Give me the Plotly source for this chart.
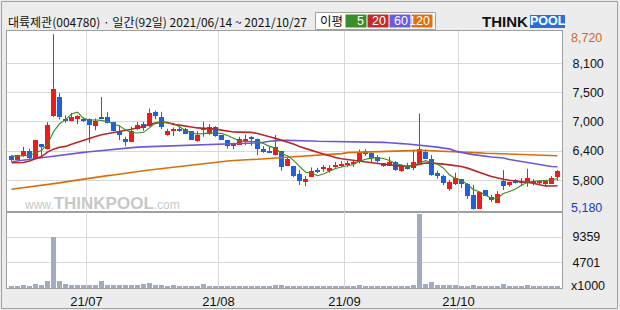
import plotly.graph_objects as go
from plotly.subplots import make_subplots

# ---------------- data ----------------
title_text = "대륙제관(004780) · 일간(92일) 2021/06/14 ~ 2021/10/27"
month_labels = ["21/07", "21/08", "21/09", "21/10"]
month_start_idx = [13, 35, 56, 75]

opens = [6261, 6180, 6258, 6360, 6220, 6495, 6400, 7065, 7449, 7012,
         6972, 7012, 7018, 6998, 6864, 7045, 7039, 6938, 6770, 6609,
         6548, 6810, 6904, 6864, 7153, 7039, 6683, 6770, 6810, 6804,
         6763, 6555, 6790, 6703, 6844, 6676, 6582, 6481, 6488, 6562,
         6649, 6602, 6400, 6367, 6273, 6367, 6064, 6058, 5896, 5736,
         5843, 5984, 5990, 5964, 6058, 6078, 6085, 6105, 6132, 6360,
         6320, 6246, 6118, 6064, 6132, 5964, 6051, 6018, 6105, 6340,
         6199, 5917, 5863, 5601, 5688, 5796, 5702, 5480, 5198, 5575,
         5433, 5319, 5756, 5675, 5769, 5729, 5722, 5709, 5722, 5702,
         5702, 5843]
highs = [6280, 6285, 6447, 6407, 6590, 6500, 6945, 8720, 7530, 7080,
         7132, 7085, 7040, 7020, 7018, 7449, 7146, 6945, 6884, 6650,
         6851, 6945, 6951, 7220, 7180, 7153, 6810, 6837, 6851, 6830,
         6763, 6763, 6951, 6904, 6864, 6680, 6585, 6528, 6649, 6696,
         6662, 6616, 6461, 6461, 6683, 6367, 6246, 6058, 5977, 5857,
         6031, 6024, 6078, 6078, 6139, 6159, 6166, 6166, 6394, 6400,
         6320, 6280, 6118, 6246, 6159, 6091, 6125, 6367, 7120, 6394,
         6280, 5964, 5883, 5776, 5924, 5796, 5716, 5675, 5534, 5575,
         5480, 5554, 5977, 5743, 5796, 5816, 6004, 5796, 5776, 5769,
         5856, 5977]
lows = [6160, 6170, 6245, 6186, 6215, 6267, 6395, 7050, 6999, 6931,
        6965, 6904, 6950, 6528, 6783, 7030, 6920, 6760, 6582, 6461,
        6548, 6790, 6770, 6850, 7003, 6804, 6670, 6662, 6750, 6703,
        6582, 6548, 6649, 6683, 6649, 6582, 6414, 6400, 6481, 6481,
        6468, 6279, 6326, 6320, 6273, 5964, 6064, 5836, 5675, 5655,
        5836, 5917, 5944, 5924, 6024, 6038, 6044, 6044, 6112, 6260,
        6132, 6125, 6044, 6058, 5964, 5944, 5990, 5977, 6098, 6199,
        5863, 5803, 5675, 5561, 5675, 5615, 5393, 5180, 5191, 5453,
        5333, 5312, 5574, 5641, 5709, 5655, 5641, 5668, 5689, 5655,
        5695, 5762]
closes = [6180, 6274, 6360, 6220, 6581, 6448, 6884, 7609, 7039, 6972,
          7045, 7072, 6972, 6884, 6972, 6998, 6931, 6770, 6676, 6548,
          6756, 6884, 6830, 7132, 7072, 6844, 6764, 6790, 6770, 6709,
          6588, 6676, 6817, 6850, 6662, 6582, 6468, 6501, 6609, 6609,
          6602, 6407, 6333, 6327, 6434, 6044, 6206, 5863, 5762, 5796,
          5957, 5944, 6038, 6024, 6085, 6105, 6105, 6132, 6340, 6293,
          6226, 6152, 6051, 6145, 5984, 6064, 6011, 6145, 6407, 6206,
          5883, 5863, 5722, 5736, 5816, 5702, 5460, 5198, 5534, 5460,
          5373, 5494, 5662, 5729, 5716, 5749, 5816, 5756, 5749, 5749,
          5816, 5964]
ma5 = [6260, 6262, 6266, 6272, 6323, 6377, 6499, 6748, 6912, 6990,
       7110, 7147, 7020, 6989, 6989, 6980, 6951, 6911, 6869, 6785,
       6736, 6727, 6739, 6830, 6935, 6952, 6928, 6920, 6848, 6775,
       6724, 6707, 6712, 6728, 6719, 6717, 6676, 6613, 6564, 6554,
       6558, 6546, 6512, 6456, 6421, 6309, 6269, 6175, 6062, 5934,
       5917, 5864, 5899, 5952, 6010, 6039, 6071, 6090, 6153, 6195,
       6219, 6229, 6212, 6173, 6112, 6079, 6051, 6070, 6122, 6167,
       6130, 6101, 6016, 5882, 5804, 5768, 5687, 5582, 5542, 5471,
       5405, 5412, 5505, 5544, 5595, 5670, 5734, 5753, 5757, 5764,
       5777, 5807]
ma20 = [6126, 6126, 6130, 6160, 6205, 6250, 6340, 6400, 6440, 6455,
        6500, 6540, 6590, 6630, 6655, 6690, 6710, 6735, 6760, 6772,
        6801, 6831, 6855, 6900, 6925, 6944, 6939, 6898, 6884, 6871,
        6848, 6828, 6821, 6819, 6803, 6783, 6759, 6746, 6743, 6746,
        6738, 6714, 6689, 6649, 6617, 6577, 6549, 6503, 6452, 6407,
        6375, 6339, 6300, 6258, 6230, 6206, 6188, 6169, 6156, 6140,
        6121, 6108, 6094, 6085, 6063, 6064, 6054, 6068, 6100, 6121,
        6117, 6113, 6097, 6083, 6069, 6049, 6017, 5970, 5930, 5888,
        5846, 5813, 5793, 5772, 5759, 5743, 5734, 5714, 5681, 5658,
        5655, 5660]
ma60 = [6147, 6160, 6175, 6195, 6210, 6225, 6240, 6258, 6275, 6295,
        6310, 6322, 6335, 6347, 6360, 6372, 6385, 6398, 6410, 6422,
        6432, 6440, 6445, 6450, 6455, 6460, 6462, 6465, 6470, 6475,
        6482, 6488, 6495, 6500, 6505, 6510, 6514, 6516, 6516, 6518,
        6520, 6525, 6540, 6560, 6572, 6576, 6576, 6576, 6576, 6575,
        6565, 6560, 6558, 6556, 6556, 6556, 6556, 6556, 6556, 6555,
        6550, 6542, 6536, 6530, 6516, 6512, 6505, 6495, 6480, 6470,
        6455, 6440, 6420, 6405, 6360, 6330, 6310, 6290, 6270, 6250,
        6240, 6230, 6220, 6190, 6170, 6150, 6130, 6100, 6085, 6070,
        6050, 6044]
ma120 = [5590, 5605, 5620, 5635, 5650, 5665, 5680, 5700, 5720, 5740,
         5760, 5775, 5790, 5805, 5825, 5845, 5865, 5880, 5900, 5915,
         5930, 5950, 5965, 5980, 5995, 6010, 6025, 6040, 6055, 6070,
         6085, 6095, 6110, 6125, 6135, 6145, 6160, 6170, 6180, 6185,
         6190, 6195, 6200, 6205, 6215, 6227, 6235, 6245, 6253, 6260,
         6267, 6273, 6280, 6290, 6295, 6310, 6330, 6335, 6340, 6342,
         6345, 6348, 6350, 6355, 6360, 6370, 6374, 6376, 6376, 6374,
         6370, 6360, 6354, 6350, 6340, 6336, 6334, 6330, 6325, 6318,
         6314, 6310, 6305, 6300, 6295, 6290, 6285, 6280, 6276, 6273,
         6270, 6268]
volume_k = [300, 300, 480, 300, 790, 480, 1340, 9450, 1340, 660,
            480, 480, 480, 480, 480, 1340, 480, 480, 480, 480,
            480, 480, 660, 850, 540, 480, 300, 480, 300, 300,
            300, 300, 660, 300, 300, 300, 300, 300, 300, 300,
            300, 300, 300, 300, 600, 480, 300, 300, 300, 300,
            300, 300, 300, 300, 300, 300, 300, 300, 480, 300,
            300, 300, 300, 300, 300, 300, 300, 480, 13500, 790,
            1030, 480, 480, 480, 480, 300, 300, 480, 300, 300,
            300, 300, 790, 300, 300, 300, 480, 300, 300, 300,
            300, 300]
price_tick_vals = [5770, 6360, 6950, 7540, 8130]
price_tick_text = ["5,800", "6,400", "7,000", "7,500", "8,100"]
vol_tick_vals = [4701, 9359]
vol_tick_text = ["4701", "9359"]
ma_names = ["5", "20", "60", "120"]

# ---------------- styles ----------------
UP, DOWN = "#f01a1a", "#1f5fe0"
MA_COLORS = ["#3c8c1e", "#b82828", "#6a5ad8", "#d8700a"]
LEG_COLORS = ["#3c8c28", "#c42a2a", "#6a5ce0", "#e07010"]
GRID = "#d9d9d9"
FRAME = "#a0a0a0"
BG = "#ececec"
FONT = "Liberation Sans"
KFONT = "Noto Sans CJK KR"

n = len(closes)
idx = list(range(n))

fig = make_subplots(rows=2, cols=1, shared_xaxes=True, vertical_spacing=0,
                    row_heights=[181, 76])

# candle bodies
body_base = [min(o, c) for o, c in zip(opens, closes)]
body_h = [max(abs(c - o), 18) for o, c in zip(opens, closes)]
body_col = [UP if c >= o else DOWN for o, c in zip(opens, closes)]
fig.add_trace(go.Bar(x=idx, y=body_h, base=body_base, width=0.84,
                     marker=dict(color=body_col, line=dict(width=0)),
                     hoverinfo="skip", showlegend=False), row=1, col=1)

# wicks
for col, up in ((UP, True), (DOWN, False)):
    wx, wy = [], []
    for i in idx:
        if (closes[i] >= opens[i]) == up:
            wx += [i, i, None]
            wy += [lows[i], highs[i], None]
    fig.add_trace(go.Scatter(x=wx, y=wy, mode="lines",
                             line=dict(color=col, width=1),
                             hoverinfo="skip", showlegend=False), row=1, col=1)

# moving averages
for vals, colr, wdt in ((ma120, MA_COLORS[3], 1.6), (ma60, MA_COLORS[2], 1.6),
                        (ma20, MA_COLORS[1], 1.6), (ma5, MA_COLORS[0], 1.1)):
    fig.add_trace(go.Scatter(x=idx, y=vals, mode="lines",
                             line=dict(color=colr, width=wdt),
                             hoverinfo="skip", showlegend=False), row=1, col=1)

# volume
fig.add_trace(go.Bar(x=idx, y=volume_k, width=0.8,
                     marker=dict(color="#a3aac3", line=dict(width=0)),
                     hoverinfo="skip", showlegend=False), row=2, col=1)

grid_x = [m - 0.5 for m in month_start_idx]
xcommon = dict(range=[-0.75, n - 0.25], showgrid=True, gridcolor=GRID, gridwidth=1,
               tickvals=grid_x, zeroline=False, showline=True, linecolor=FRAME,
               linewidth=1, mirror=True, ticks="", automargin=False)
fig.update_xaxes(**xcommon, showticklabels=False, row=1, col=1)
fig.update_xaxes(**xcommon, showticklabels=True, ticktext=month_labels,
                 tickfont=dict(family=FONT, size=13, color="#111111"),
                 ticklabelstandoff=1, row=2, col=1)

ycommon = dict(side="right", showgrid=True, gridcolor=GRID, zeroline=False,
               showline=True, linecolor=FRAME, mirror=True, ticks="",
               ticklabelstandoff=7, automargin=False,
               tickfont=dict(family=FONT, size=12.5, color="#111111"))
fig.update_yaxes(range=[5132, 8783], tickvals=price_tick_vals,
                 ticktext=price_tick_text, **ycommon, row=1, col=1)
fig.update_yaxes(range=[0, 13950], tickvals=vol_tick_vals,
                 ticktext=vol_tick_text, **ycommon, row=2, col=1)

L, R, T, B = 7, 562, 31, 288


def px(xp):
    return (xp - L) / (R - L)


def py(yp):
    return (B - yp) / (B - T)


ann = []
# max / min price labels
ann.append(dict(xref="paper", x=1, xanchor="left", xshift=7, yref="y", y=max(highs),
                yshift=-4, text=f"{max(highs):,}", showarrow=False,
                font=dict(family=FONT, size=12.5, color="#d2691e")))
ann.append(dict(xref="paper", x=1, xanchor="left", xshift=7, yref="y", y=min(lows),
                yshift=2, text=f"{min(lows):,}", showarrow=False,
                font=dict(family=FONT, size=12.5, color="#1a3acc")))
ann.append(dict(xref="paper", x=1, xanchor="left", xshift=7, yref="y2", y=0,
                yshift=2, text="x1000", showarrow=False,
                font=dict(family=FONT, size=12.5, color="#111111")))
# title
ann.append(dict(xref="paper", x=px(6), xanchor="left", yref="paper", y=py(22),
                yanchor="middle", text=title_text, showarrow=False,
                font=dict(family=KFONT, size=12, color="#111111")))
# legend label
ann.append(dict(xref="paper", x=px(331), xanchor="center", yref="paper", y=py(21),
                yanchor="middle", text="이평", showarrow=False,
                font=dict(family=KFONT, size=12.5, color="#111111")))
shapes = []
shapes.append(dict(type="rect", xref="paper", yref="paper", x0=px(315.5), x1=px(435.5),
                   y0=py(29.5), y1=py(12.5), fillcolor="white",
                   line=dict(color=FRAME, width=1), layer="below"))
box_x = [(345.5, 366.5), (367.5, 388.5), (389.5, 410.5), (411.5, 432.5)]
for (x0, x1), c, name in zip(box_x, LEG_COLORS, ma_names):
    shapes.append(dict(type="rect", xref="paper", yref="paper", x0=px(x0), x1=px(x1),
                       y0=py(27.5), y1=py(14.5), fillcolor=c, line=dict(width=0)))
    ann.append(dict(xref="paper", x=px(x1 - 1), xanchor="right", yref="paper", y=py(21),
                    yanchor="middle", text=name, showarrow=False,
                    font=dict(family=FONT, size=12.5, color="white")))
# THINKPOOL logo
ann.append(dict(xref="paper", x=px(530), xanchor="right", yref="paper", y=py(21.5),
                yanchor="middle", text="<b>THINK</b>", showarrow=False,
                font=dict(family=FONT, size=15, color="#111111")))
shapes.append(dict(type="rect", xref="paper", yref="paper", x0=px(530), x1=px(565),
                   y0=py(28), y1=py(15), fillcolor="#2a6fd8", line=dict(width=0)))
ann.append(dict(xref="paper", x=px(547.5), xanchor="center", yref="paper", y=py(21.5),
                yanchor="middle", text="<b>POOL</b>", showarrow=False,
                font=dict(family=FONT, size=12.5, color="white")))
# watermark
ann.append(dict(xref="paper", x=px(22), xanchor="left", yref="paper", y=py(203),
                yanchor="middle",
                text="www.<b><span style='font-size:17px'>THINKPOOL</span></b>.com",
                showarrow=False, font=dict(family=FONT, size=12, color="#c8c8c8")))
# outer frame
shapes.append(dict(type="rect", xref="paper", yref="paper", x0=px(1.5), x1=px(617.5),
                   y0=py(308.5), y1=py(1.5), line=dict(color=FRAME, width=1),
                   layer="below"))

fig.update_layout(width=620, height=310, margin=dict(l=L, r=620 - R, t=T, b=310 - B),
                  paper_bgcolor=BG, plot_bgcolor="white", bargap=0, showlegend=False,
                  annotations=ann, shapes=shapes, hovermode=False)

fig.write_html("out.html")
